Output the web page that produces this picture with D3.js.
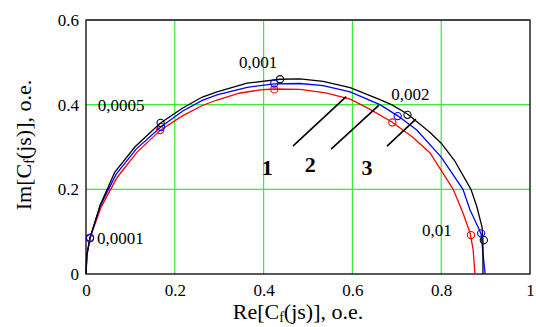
<!DOCTYPE html>
<html>
<head>
<meta charset="utf-8">
<script src="https://cdn.jsdelivr.net/npm/d3@7"></script>
<style>
  body { margin: 0; background: #fff; }
  svg { display: block; }
  text { font-family: "Liberation Serif", "Times New Roman", serif; fill: #000; }
</style>
</head>
<body>
<svg id="chart" width="536" height="327"></svg>
<script>
// curve 1 (red), curve 2 (blue), curve 3 (black): [Re, Im]
const curveRed = [[0,0],[0.002,0.045],[0.009,0.085],[0.034,0.158],[0.070,0.228],[0.115,0.288],[0.169,0.341],
  [0.218,0.374],[0.262,0.398],[0.295,0.411],[0.345,0.427],[0.392,0.435],[0.424,0.437],[0.482,0.436],[0.540,0.428],
  [0.595,0.413],[0.640,0.389],[0.689,0.359],[0.736,0.323],[0.775,0.286],[0.800,0.245],[0.827,0.200],[0.849,0.144],
  [0.865,0.097],[0.872,0.057],[0.876,0]];
const curveBlue = [[0,0],[0.002,0.045],[0.009,0.085],[0.032,0.161],[0.068,0.236],[0.113,0.295],[0.169,0.348],
  [0.218,0.385],[0.262,0.410],[0.295,0.423],[0.363,0.441],[0.424,0.449],[0.482,0.450],[0.534,0.445],[0.595,0.430],
  [0.662,0.400],[0.703,0.373],[0.745,0.340],[0.800,0.276],[0.849,0.200],[0.865,0.151],[0.883,0.111],[0.890,0.094],
  [0.894,0.050],[0.899,0]];
const curveBlack = [[0,0],[0.002,0.045],[0.009,0.085],[0.032,0.163],[0.065,0.241],[0.110,0.300],[0.167,0.356],
  [0.218,0.392],[0.262,0.418],[0.295,0.430],[0.363,0.451],[0.437,0.460],[0.482,0.461],[0.534,0.455],[0.595,0.440],
  [0.662,0.412],[0.688,0.400],[0.724,0.378],[0.775,0.334],[0.800,0.309],[0.830,0.268],[0.867,0.200],[0.880,0.160],
  [0.892,0.111],[0.894,0.080],[0.894,0]];

// marked frequencies and the marker points on each curve
const freqLabels = ["0,0001", "0,0005", "0,001", "0,002", "0,01"];
const markRed   = [[0.009,0.085],[0.167,0.340],[0.424,0.436],[0.690,0.358],[0.867,0.092]];
const markBlack = [[0.009,0.085],[0.168,0.357],[0.437,0.460],[0.724,0.376],[0.896,0.080]];
const markBlue  = [[0.009,0.085],[0.169,0.347],[0.424,0.450],[0.702,0.373],[0.890,0.096]];

// curve numbers with leader lines
const curveNames = ["1", "2", "3"];
const nameAt   = [[0.408,0.253],[0.505,0.260],[0.633,0.253]];
const leaderFrom = [[0.466,0.302],[0.552,0.295],[0.678,0.302]];
const leaderTo   = [[0.586,0.419],[0.660,0.399],[0.743,0.366]];

const xTicks = [0, 0.2, 0.4, 0.6, 0.8, 1];
const yTicks = [0, 0.2, 0.4, 0.6];

const svg = d3.select("#chart");
const x = d3.scaleLinear().domain([0, 1]).range([86, 530]);
const y = d3.scaleLinear().domain([0, 0.6]).range([274, 20]);

// grid
svg.append("g").selectAll("line").data(xTicks.slice(1, -1)).join("line")
  .attr("x1", d => x(d)).attr("x2", d => x(d)).attr("y1", y(0)).attr("y2", y(0.6))
  .attr("stroke", "#33ee33").attr("stroke-width", 1.2);
svg.append("g").selectAll("line").data(yTicks.slice(1, -1)).join("line")
  .attr("y1", d => y(d)).attr("y2", d => y(d)).attr("x1", x(0)).attr("x2", x(1))
  .attr("stroke", "#33ee33").attr("stroke-width", 1.2);

// frame
svg.append("rect").attr("x", x(0)).attr("y", y(0.6)).attr("width", x(1) - x(0)).attr("height", y(0) - y(0.6))
  .attr("fill", "none").attr("stroke", "#000").attr("stroke-width", 1.3);
svg.append("line").attr("x1", x(0)).attr("x2", x(1)).attr("y1", y(0.6)).attr("y2", y(0.6))
  .attr("stroke", "#444").attr("stroke-width", 2);

// axes (labels only)
const xAxis = svg.append("g").attr("transform", `translate(0,${y(0)})`)
  .call(d3.axisBottom(x).tickValues(xTicks).tickSize(0).tickPadding(10).tickFormat(d3.format("")));
const yAxis = svg.append("g").attr("transform", `translate(${x(0)},0)`)
  .call(d3.axisLeft(y).tickValues(yTicks).tickSize(0).tickPadding(7).tickFormat(d3.format("")));
[xAxis, yAxis].forEach(g => {
  g.select(".domain").remove();
  g.selectAll("text").style("font-family", '"Liberation Serif", serif').style("font-size", "17px").attr("fill", "#000");
});

// curves
const line = d3.line().x(d => x(d[0])).y(d => y(d[1]));
[[curveRed, "#ff0000"], [curveBlue, "#0000ff"], [curveBlack, "#000000"]].forEach(([c, col]) => {
  svg.append("path").datum(c).attr("d", line).attr("fill", "none").attr("stroke", col).attr("stroke-width", 1.3);
});

// markers
[[markRed, "#ff0000"], [markBlack, "#000000"], [markBlue, "#0000ff"]].forEach(([m, col]) => {
  svg.append("g").selectAll("circle").data(m).join("circle")
    .attr("cx", d => x(d[0])).attr("cy", d => y(d[1])).attr("r", 3.6)
    .attr("fill", "none").attr("stroke", col).attr("stroke-width", 1.1);
});

// frequency labels, placed relative to the black markers
const labOff = [[7, 0, "start"], [-16, -18, "end"], [-22, -17, "middle"], [3, -21, "middle"], [-32, -10, "end"]];
svg.append("g").selectAll("text").data(freqLabels).join("text")
  .attr("x", (d, i) => x(markBlack[i][0]) + labOff[i][0])
  .attr("y", (d, i) => y(markBlack[i][1]) + labOff[i][1])
  .attr("dy", "0.35em").attr("text-anchor", (d, i) => labOff[i][2])
  .style("font-size", "17px").text(d => d);

// leader lines and curve numbers
svg.append("g").selectAll("line").data(leaderFrom).join("line")
  .attr("x1", d => x(d[0])).attr("y1", d => y(d[1]))
  .attr("x2", (d, i) => x(leaderTo[i][0])).attr("y2", (d, i) => y(leaderTo[i][1]))
  .attr("stroke", "#000").attr("stroke-width", 1.6);
svg.append("g").selectAll("text").data(curveNames).join("text")
  .attr("x", (d, i) => x(nameAt[i][0])).attr("y", (d, i) => y(nameAt[i][1]))
  .attr("dy", "0.35em").attr("text-anchor", "middle")
  .style("font-size", "22px").style("font-weight", "bold").text(d => d);

// axis titles
const xt = svg.append("text").attr("x", 298).attr("y", 319).attr("text-anchor", "middle").style("font-size", "22px");
xt.append("tspan").text("Re[C");
xt.append("tspan").attr("dy", 3).style("font-size", "14px").text("f");
xt.append("tspan").attr("dy", -3).text("(js)], o.e.");

const yt = svg.append("text").attr("transform", "translate(31,145) rotate(-90)").attr("text-anchor", "middle").style("font-size", "22px");
yt.append("tspan").text("Im[C");
yt.append("tspan").attr("dy", 3).style("font-size", "14px").text("f");
yt.append("tspan").attr("dy", -3).text("(js)], o.e.");
</script>
</body>
</html>
